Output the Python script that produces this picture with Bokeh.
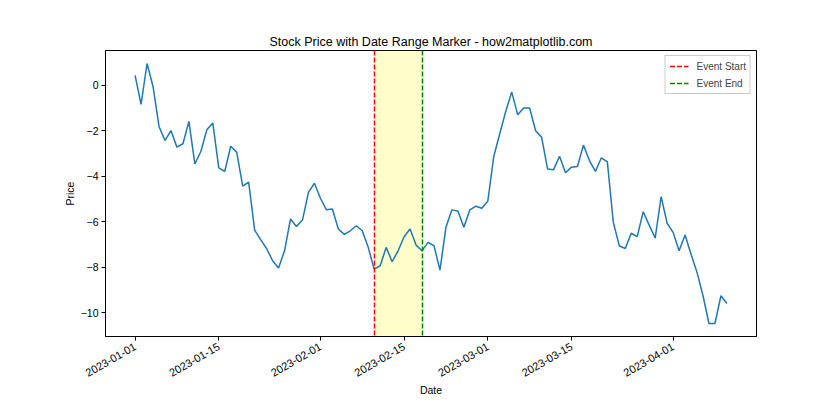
import pandas as pd
from bokeh.plotting import figure
from bokeh.models import Range1d, FixedTicker, DatetimeTickFormatter
from bokeh.embed import file_html
from bokeh.resources import INLINE

# ---- data ----
start_date = "2023-01-01"
prices = [
    0.44, -0.84, 0.96, -0.05, -1.81, -2.43, -1.99, -2.72, -2.57, -1.59,
    -3.46, -2.91, -1.96, -1.66, -3.63, -3.78, -2.68, -2.94, -4.44, -4.26,
    -6.37, -6.79, -7.18, -7.72, -8.04, -7.28, -5.88, -6.21, -5.93, -4.71,
    -4.31, -4.97, -5.48, -5.44, -6.32, -6.56, -6.40, -6.18, -6.40, -7.13,
    -8.09, -7.94, -7.13, -7.76, -7.28, -6.66, -6.32, -7.03, -7.28, -6.91,
    -7.06, -8.13, -6.25, -5.48, -5.53, -6.25, -5.48, -5.32, -5.41, -5.10,
    -3.13, -2.13, -1.15, -0.29, -1.29, -1.00, -1.00, -2.00, -2.28, -3.68,
    -3.72, -3.12, -3.85, -3.60, -3.57, -2.63, -3.31, -3.79, -3.19, -3.37,
    -6.03, -7.06, -7.18, -6.51, -6.66, -5.56, -6.15, -6.72, -4.90, -6.07,
    -6.47, -7.28, -6.59, -7.43, -8.23, -9.26, -10.48, -10.48, -9.26, -9.60,
]
event_start = "2023-02-10"
event_end = "2023-02-18"
x_tick_labels = ["2023-01-01", "2023-01-15", "2023-02-01", "2023-02-15",
                 "2023-03-01", "2023-03-15", "2023-04-01"]
y_ticks = [-10, -8, -6, -4, -2, 0]

# ---- derived ----
dates = pd.date_range(start_date, periods=len(prices), freq="D")
span_days = (dates[-1] - dates[0]).days
pad = pd.Timedelta(days=span_days * 0.05)
ymin, ymax = min(prices), max(prices)
ypad = (ymax - ymin) * 0.05

def ms(d):
    return pd.Timestamp(d).value // 10**6

FONT = "Liberation Sans"

p = figure(
    width=824, height=404,
    output_backend="svg", toolbar_location=None,
    x_axis_type="datetime",
    x_range=Range1d(ms(dates[0] - pad), ms(dates[-1] + pad)),
    y_range=Range1d(ymin - ypad, ymax + ypad),
    min_border_left=105, min_border_right=68,
    min_border_top=50, min_border_bottom=68,
    title="Stock Price with Date Range Marker - how2matplotlib.com",
)

p.title.align = "center"
p.title.text_font = FONT
p.title.text_font_style = "normal"
p.title.text_font_size = "12.5px"
p.title.text_color = "black"
p.title.standoff = 4

p.xgrid.visible = False
p.ygrid.visible = False
p.outline_line_color = "black"
p.outline_line_width = 1
p.outline_line_alpha = 1

# shaded event window
p.vstrip(x0=[ms(event_start)], x1=[ms(event_end)],
         fill_color="yellow", fill_alpha=0.2, line_alpha=0)

# price line
p.line(dates, prices, line_color="#1f77b4", line_width=1.5)

# event markers
p.vspan(x=[ms(event_start)], line_color="red", line_dash="5 2",
        line_width=1.5, legend_label="Event Start")
p.vspan(x=[ms(event_end)], line_color="green", line_dash="5 2",
        line_width=1.5, legend_label="Event End")

# axes
xa = p.xaxis[0]
xa.ticker = FixedTicker(ticks=[ms(t) for t in x_tick_labels])
fmt = "%Y-%m-%d"
xa.formatter = DatetimeTickFormatter(
    milliseconds=fmt, seconds=fmt, minsec=fmt, minutes=fmt, hourmin=fmt,
    hours=fmt, days=fmt, months=fmt, years=fmt)
xa.major_label_orientation = 0.5236
xa.axis_label = "Date"

ya = p.yaxis[0]
ya.ticker = FixedTicker(ticks=y_ticks)
ya.axis_label = "Price"

for ax in (xa, ya):
    ax.major_label_text_font = FONT
    ax.major_label_text_font_size = "10.5px"
    ax.major_label_text_color = "black"
    ax.axis_label_text_font = FONT
    ax.axis_label_text_font_size = "10.5px"
    ax.axis_label_text_font_style = "normal"
    ax.axis_label_text_color = "black"
    ax.major_tick_in = 0
    ax.major_tick_out = 4
    ax.minor_tick_in = 0
    ax.minor_tick_out = 0
    ax.axis_line_color = "black"
    ax.major_tick_line_color = "black"
    ax.major_label_standoff = 3
    ax.axis_label_standoff = 2

xa.major_label_text_font_size = "11px"
xa.major_label_standoff = 5
xa.axis_label_standoff = 0

# legend
lg = p.legend[0]
lg.location = "top_right"
lg.label_text_font = FONT
lg.label_text_font_size = "10px"
lg.border_line_color = "#cccccc"
lg.border_line_alpha = 1
lg.background_fill_alpha = 0.8
lg.glyph_width = 19
lg.glyph_height = 12
lg.label_height = 12
lg.label_standoff = 8
lg.spacing = 5
lg.padding = 4
lg.margin = 5

open("out.html", "w").write(file_html(p, INLINE))
